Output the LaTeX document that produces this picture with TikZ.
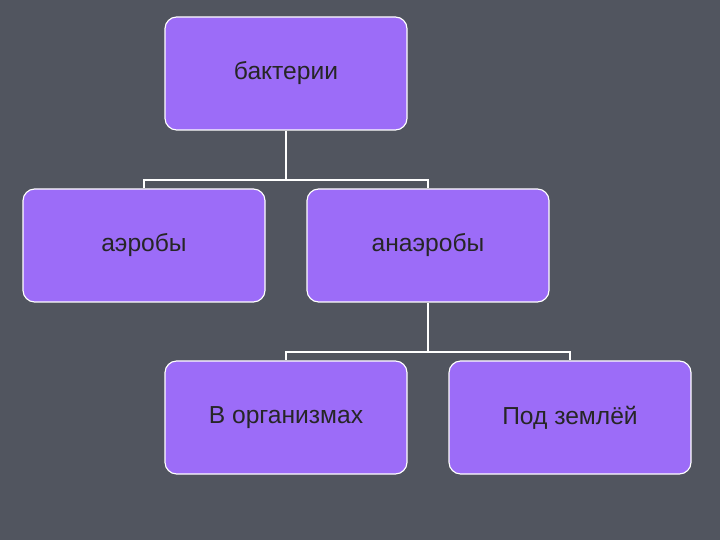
\documentclass[tikz,border=0pt]{standalone}
\usepackage{fontspec}
\setmainfont{Liberation Sans}
\definecolor{bg}{HTML}{51555F}
\definecolor{boxc}{HTML}{9C6CF8}
\begin{document}
\begin{tikzpicture}[x=0.03cm,y=-0.03cm,
  bx/.style={draw=white,line width=1pt,fill=boxc,rounded corners=10pt,minimum width=242*0.03cm,minimum height=113*0.03cm,font=\fontsize{21}{24}\selectfont,text=black!85},
  ln/.style={draw=white,line width=1.2pt}]
\fill[bg] (0,0) rectangle (720,540);
\node[bx] (b) at (286,73.5) {бактерии};
\node[bx] (a) at (144,245.5) {аэробы};
\node[bx] (n) at (428,245.5) {анаэробы};
\node[bx] (o) at (286,417.5) {В организмах};
\node[bx] (p) at (570,417.5) {Под землёй};
\coordinate (j1) at (286,180);
\coordinate (j2) at (428,352);
\draw[ln] (b.south) -- (j1) -| (a.north);
\draw[ln] (j1) -| (n.north);
\draw[ln] (n.south) -- (j2) -| (o.north);
\draw[ln] (j2) -| (p.north);
\end{tikzpicture}
\end{document}
